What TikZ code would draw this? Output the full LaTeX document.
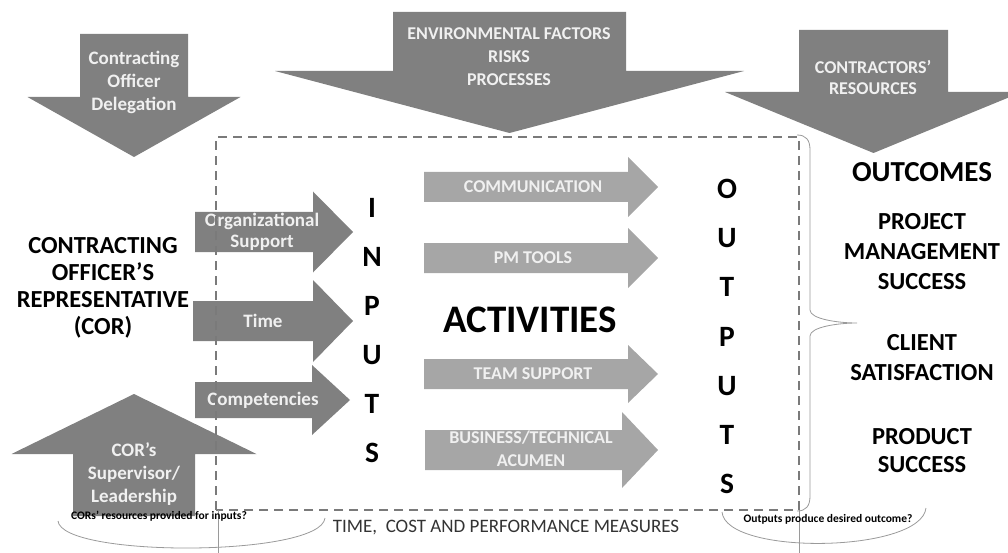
\documentclass[tikz,border=0pt]{standalone}
\usepackage{fontspec}
\setmainfont{Carlito}

\definecolor{arrowdark}{HTML}{808080}
\definecolor{arrowlight}{HTML}{A6A6A6}
\definecolor{labelgray}{HTML}{F0F0F0}
\definecolor{boxgray}{HTML}{7A7A7A}
\definecolor{thingray}{HTML}{9A9A9A}
\definecolor{measuregray}{HTML}{333333}

% horizontal block arrow: style, x start, head start, tip x, centre y, shaft half, head half
\newcommand{\flatarrow}[7]{%
  \fill[#1] (#2,#5-#6) -- (#3,#5-#6) -- (#3,#5-#7) -- (#4,#5)
    -- (#3,#5+#7) -- (#3,#5+#6) -- (#2,#5+#6) -- cycle;}
% vertical block arrow: style, centre x, shaft half, head half, shaft end y, head base y, tip y
\newcommand{\vertarrow}[7]{%
  \fill[#1] (#2-#3,#5) -- (#2+#3,#5) -- (#2+#3,#6) -- (#2+#4,#6) -- (#2,#7)
    -- (#2-#4,#6) -- (#2-#3,#6) -- cycle;}

\begin{document}
\begin{tikzpicture}[x=1pt,y=-1pt,
  darkarrow/.style={fill=arrowdark},
  lightarrow/.style={fill=arrowlight},
  arrowlabel/.style={text=labelgray, inner sep=0pt, align=center,
    font=\bfseries\fontsize{19}{23}\selectfont},
  actlabel/.style={text=labelgray, inner sep=0pt, align=center,
    font=\bfseries\fontsize{18}{23}\selectfont},
  letter/.style={inner sep=0pt, font=\bfseries\fontsize{29.5}{29.5}\selectfont},
  heading/.style={inner sep=0pt, align=center, font=\bfseries\fontsize{24.5}{27}\selectfont},
  outcome/.style={inner sep=0pt, align=center, font=\bfseries\fontsize{24.5}{30}\selectfont},
  question/.style={inner sep=0pt, font=\bfseries\fontsize{11.5}{13}\selectfont},
  dashbox/.style={draw=boxgray, line width=1.6pt, dash pattern=on 9pt off 6pt},
  thinline/.style={draw=thingray, line width=0.8pt}
]
\useasboundingbox (0,0) rectangle (1008,553);
\clip (0,0) rectangle (1008,553);

% influences from above and below
\vertarrow{darkarrow}{134}{54}{106.5}{34}{97}{157}
\vertarrow{darkarrow}{509.5}{116.5}{234.5}{12}{71}{133}
\vertarrow{darkarrow}{873.5}{74.5}{148.5}{30}{92}{153}
\vertarrow{darkarrow}{134}{61}{122.5}{516}{454}{394}

\node[arrowlabel] (delegation) at (134,82) {Contracting\\Officer\\Delegation};
\node[arrowlabel, font=\bfseries\fontsize{18}{23}\selectfont] (environment) at (509,57)
  {ENVIRONMENTAL FACTORS\\RISKS\\PROCESSES};
\node[arrowlabel, font=\bfseries\fontsize{18}{21.5}\selectfont] (resources) at (873,77.5)
  {CONTRACTORS’\\RESOURCES};
\node[arrowlabel] (supervisor) at (134,474) {COR’s\\Supervisor/\\Leadership};

% inputs
\flatarrow{darkarrow}{195}{313}{353}{232}{20}{40.5}
\flatarrow{darkarrow}{193}{313}{353}{321}{20}{41}
\flatarrow{darkarrow}{195}{312}{350}{400}{18}{35}
\node[arrowlabel, font=\bfseries\fontsize{19}{21}\selectfont] (orgsupport) at (262,232)
  {Organizational\\Support};
\node[arrowlabel] (time) at (263,321) {Time};
\node[arrowlabel] (competencies) at (263,400) {Competencies};

% activities
\flatarrow{lightarrow}{424}{628}{658}{187}{15}{30}
\flatarrow{lightarrow}{424}{628}{658}{258}{15}{30}
\flatarrow{lightarrow}{424}{628}{658}{374}{15}{29}
\flatarrow{lightarrow}{425}{622}{658}{450}{20}{38}
\node[actlabel] (communication) at (533,187) {COMMUNICATION};
\node[actlabel] (pmtools) at (533,258) {PM TOOLS};
\node[actlabel] (teamsupport) at (533,374) {TEAM SUPPORT};
\node[actlabel] (acumen) at (531,448.5) {BUSINESS/TECHNICAL\\ACUMEN};

% project boundary
\coordinate (boxNW) at (216,137);
\coordinate (boxNE) at (799,137);
\coordinate (boxSE) at (799,510);
\coordinate (boxSW) at (216,510);
\draw[dashbox] (boxSW) -- (boxNW) -- (boxNE) -- (boxSE) -- cycle;

% the COR
\node[heading] (cor) at (103,287.5)
  {CONTRACTING\\OFFICER’S\\REPRESENTATIVE\\(COR)};

% INPUTS, written downwards
\node[letter] (in1) at (372,208) {I};
\node[letter] (in2) at (372,257) {N};
\node[letter] (in3) at (372,306) {P};
\node[letter] (in4) at (372,355) {U};
\node[letter] (in5) at (372,404) {T};
\node[letter] (in6) at (372,453) {S};

\node[inner sep=0pt, font=\bfseries\fontsize{39}{39}\selectfont] (activities) at (530,320) {ACTIVITIES};

% OUTPUTS, written downwards
\node[letter] (out1) at (727,189) {O};
\node[letter] (out2) at (727,238) {U};
\node[letter] (out3) at (727,287) {T};
\node[letter] (out4) at (727,337) {P};
\node[letter] (out5) at (727,386) {U};
\node[letter] (out6) at (727,435) {T};
\node[letter] (out7) at (727,484) {S};

% outcomes
\node[inner sep=0pt, font=\bfseries\fontsize{29}{29}\selectfont] (outcomes) at (922,172) {OUTCOMES};
\node[outcome] (pmsuccess) at (922,252) {PROJECT\\MANAGEMENT\\SUCCESS};
\node[outcome] (client) at (922,358) {CLIENT\\SATISFACTION};
\node[outcome, font=\bfseries\fontsize{24.5}{28}\selectfont] (product) at (922,451) {PRODUCT\\SUCCESS};

% brace gathering the outputs into outcomes
\coordinate (braceTop) at (797,135);
\coordinate (braceTip) at (857,323);
\coordinate (braceBot) at (797,511);
\draw[thinline] (braceTop) .. controls (806,135) and (810,140) .. (810,150)
  -- (810,310) .. controls (810,319) and (838,323) .. (braceTip)
  .. controls (838,323) and (810,327) .. (810,336)
  -- (810,496) .. controls (810,506) and (806,511) .. (braceBot);

% evaluation questions beneath the boundary
\coordinate (leftFoot) at (218,553);
\coordinate (rightFoot) at (799,553);
\draw[thinline, line width=0.6pt] (boxSW) ++(2,0) -- (leftFoot);
\draw[thinline, line width=0.6pt] (boxSE) -- (rightFoot);
\coordinate (lqA) at (58,521);
\coordinate (lqB) at (325,518);
\draw[thinline] (lqA) .. controls (62,558) and (321,557) .. (lqB);
\coordinate (rqA) at (722,512);
\coordinate (rqB) at (926,508);
\draw[thinline] (rqA) .. controls (726,556) and (921,553) .. (rqB);

\node[question] (corq) at (159,516) {CORs’ resources provided for inputs?};
\node[question] (outq) at (828,519) {Outputs produce desired outcome?};
\node[inner sep=0pt, text=measuregray, font=\fontsize{19}{19}\selectfont] (measures) at (506,528)
  {TIME,~ COST AND PERFORMANCE MEASURES};
\end{tikzpicture}
\end{document}
